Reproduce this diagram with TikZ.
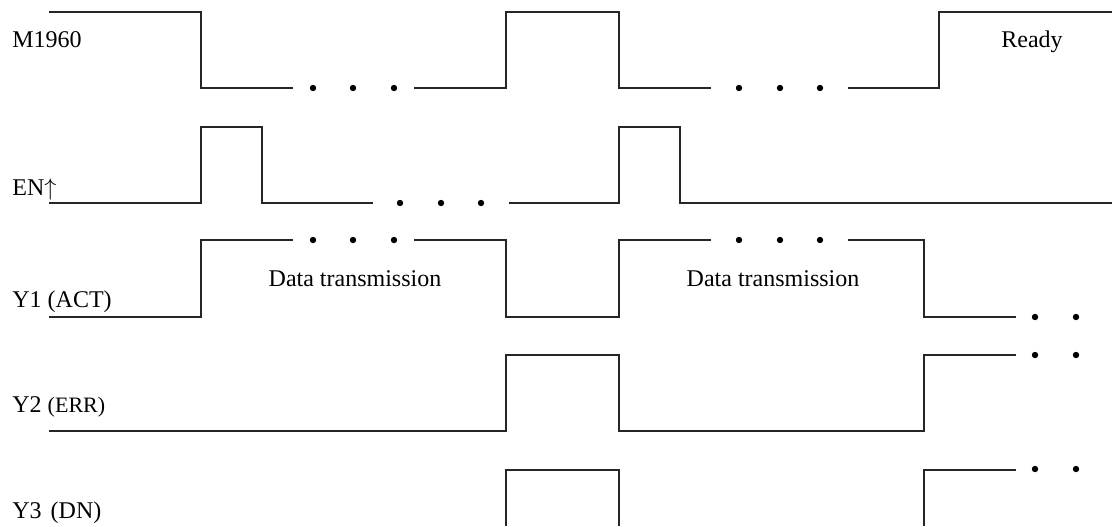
\documentclass[tikz,border=0pt]{standalone}
\usepackage{fontspec}
\setmainfont{Liberation Serif}

\begin{document}
\begin{tikzpicture}[x=0.5pt,y=-0.5pt,
  wave/.style={line width=0.6pt,black!85},
  siglabel/.style={anchor=base west,inner sep=0pt,font=\fontsize{12}{14}\selectfont},
  note/.style={anchor=base,inner sep=0pt,font=\fontsize{12}{14}\selectfont},
  ]
  \newcommand{\gapdots}[2]{\foreach \dx in {#1} {\fill (\dx,#2) circle[radius=1.6pt];}}
  \useasboundingbox (0,0) rectangle (1112,526);

  \node[siglabel] (m1960) at (12,47) {M1960};
  \node[siglabel] (en) at (12,195) {EN$\uparrow$};
  \node[siglabel] (y1) at (12,307) {Y1 (ACT)};
  \node[siglabel] (y2) at (12,412) {Y2 {\fontsize{11}{13}\selectfont(ERR)}};
  \node[siglabel] (y3) at (12,518) {Y3\hspace{4.5pt}(DN)};
  \node[note] (ready) at (1032,47) {Ready};
  \node[note] (data1) at (355,286) {Data transmission};
  \node[note] (data2) at (773,286) {Data transmission};

  % M1960
  \draw[wave] (49,12) -- (201,12) -- (201,88) -- (293,88);
  \gapdots{313,353,394}{88}
  \draw[wave] (414,88) -- (506,88) -- (506,12) -- (619,12) -- (619,88) -- (711,88);
  \gapdots{739,780,820}{88}
  \draw[wave] (848,88) -- (939,88) -- (939,12) -- (1112,12);

  % EN
  \draw[wave] (49,203) -- (201,203) -- (201,127) -- (262,127) -- (262,203) -- (373,203);
  \gapdots{400,441,481}{203}
  \draw[wave] (509,203) -- (619,203) -- (619,127) -- (680,127) -- (680,203) -- (1112,203);

  % Y1
  \draw[wave] (49,317) -- (201,317) -- (201,240) -- (293,240);
  \gapdots{313,353,394}{240}
  \draw[wave] (414,240) -- (506,240) -- (506,317) -- (619,317) -- (619,240) -- (711,240);
  \gapdots{739,780,820}{240}
  \draw[wave] (848,240) -- (924,240) -- (924,317) -- (1016,317);
  \gapdots{1035,1076}{317}

  % Y2
  \draw[wave] (49,431) -- (506,431) -- (506,355) -- (619,355) -- (619,431) -- (924,431) -- (924,355) -- (1016,355);
  \gapdots{1035,1076}{355}

  % Y3
  \draw[wave] (506,526) -- (506,470) -- (619,470) -- (619,526);
  \draw[wave] (924,526) -- (924,470) -- (1016,470);
  \gapdots{1035,1076}{469}
\end{tikzpicture}
\end{document}
